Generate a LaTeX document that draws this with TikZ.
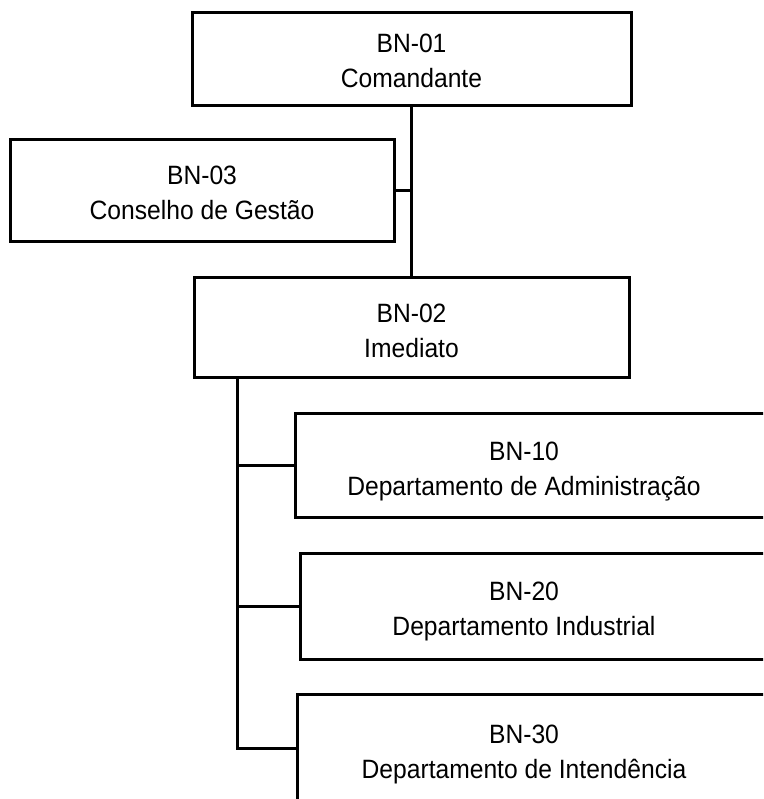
\documentclass[tikz,border=0pt]{standalone}
\usepackage{fontspec}
\setmainfont[FakeStretch=0.93]{Liberation Sans}
\begin{document}
\begin{tikzpicture}[x=1pt,y=-1pt,
  lbl/.style={align=center, inner sep=0pt, anchor=base, font=\fontsize{26.5}{35}\selectfont},
  box/.style={draw=black, line width=3pt, inner sep=0pt},
  dept/.style={box, anchor=west, minimum width=520pt},
  link/.style={line width=3pt}]
\useasboundingbox (0,0) rectangle (763,799);
\clip (0,0) rectangle (763,799);

% upper levels
\node[box, minimum width=439pt, minimum height=93pt]  (bn01) at (411.5,59.5) {};
\node[box, minimum width=384pt, minimum height=102pt] (bn03) at (202,191)    {};
\node[box, minimum width=435pt, minimum height=100pt] (bn02) at (411.5,327)  {};
% labels are placed by the baseline of their second line
\node[lbl] (bn01txt) at (411.5,88) {BN-01\\Comandante};
\node[lbl] (bn03txt) at (202,220)  {BN-03\\Conselho de Gestão};
\node[lbl] (bn02txt) at (411.5,357) {BN-02\\Imediato};

% departments (boxes run off the right edge)
\node[dept, minimum height=104pt] (bn10) at (294,465) {};
\node[dept, minimum height=106pt] (bn20) at (299,606) {};
\node[dept, minimum height=108pt] (bn30) at (296,748) {};
\node[lbl] (bn10txt) at (524,495) {BN-10\\Departamento de Administração};
\node[lbl] (bn20txt) at (524,635) {BN-20\\Departamento Industrial};
\node[lbl] (bn30txt) at (524,778) {BN-30\\Departamento de Intendência};

% connectors
\draw[link] (bn01.south) -- (bn02.north);
\draw[link] (bn03.east) -- (bn03.east -| bn01.south);
\coordinate (trunk) at (237.5,377);
\draw[link] (trunk) |- (bn30.west);
\draw[link] (bn10.west -| trunk) -- (bn10.west);
\draw[link] (bn20.west -| trunk) -- (bn20.west);
\end{tikzpicture}
\end{document}
